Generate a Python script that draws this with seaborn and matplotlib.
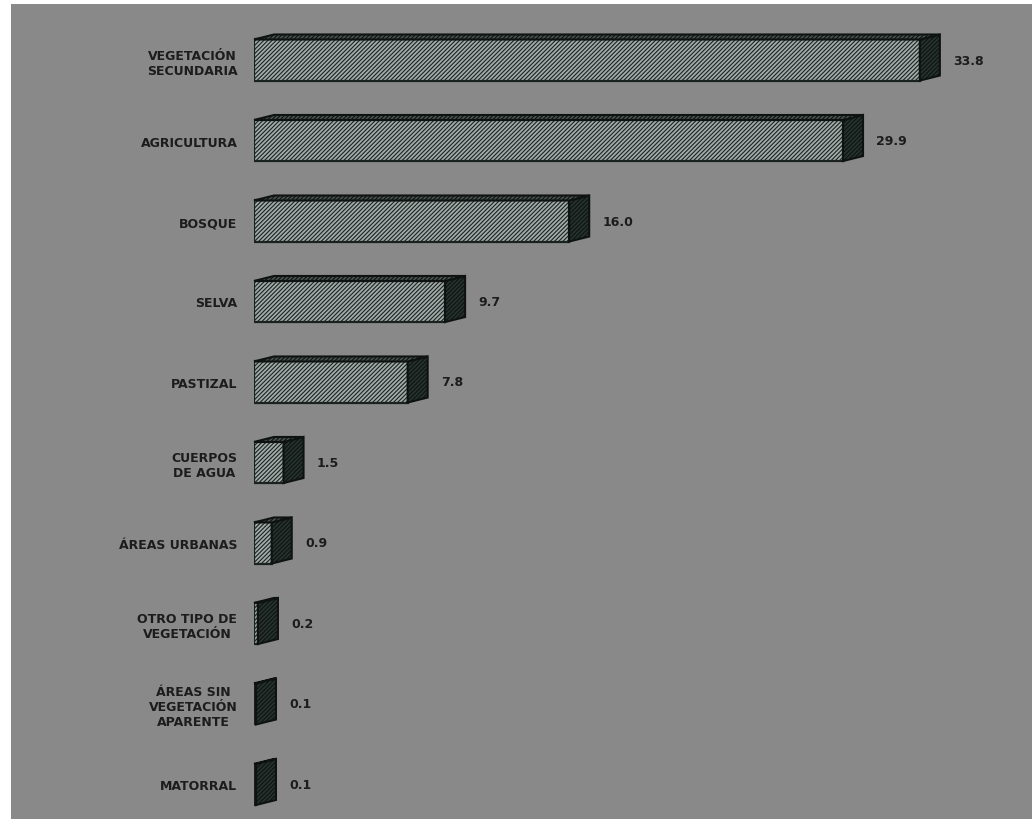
import matplotlib
matplotlib.use("Agg")
import matplotlib.pyplot as plt
from matplotlib.patches import Polygon
import seaborn as sns
import pandas as pd

categories = ["VEGETACIÓN\nSECUNDARIA", "AGRICULTURA", "BOSQUE", "SELVA", "PASTIZAL",
              "CUERPOS\nDE AGUA", "ÁREAS URBANAS", "OTRO TIPO DE\nVEGETACIÓN",
              "ÁREAS SIN\nVEGETACIÓN\nAPARENTE", "MATORRAL"]
values = [33.8, 29.9, 16.0, 9.7, 7.8, 1.5, 0.9, 0.2, 0.1, 0.1]
value_labels = ["33.8", "29.9", "16.0", "9.7", "7.8", "1.5", "0.9", "0.2", "0.1", "0.1"]

sns.set_style("white")
plt.rcParams["font.family"] = ["DejaVu Sans"]
plt.rcParams["hatch.linewidth"] = 0.8

W, H, DPI = 1032, 820, 100
fig = plt.figure(figsize=(W / DPI, H / DPI), dpi=DPI)
fig.patch.set_facecolor("white")

bg = fig.add_axes([11 / W, 0, 1 - 11 / W, (H - 5) / H], zorder=-5)
bg.set_facecolor("#898989")
bg.set_xticks([]); bg.set_yticks([])
for s in bg.spines.values():
    s.set_visible(False)

ax = fig.add_axes([254 / W, 0, 766 / W, 1], zorder=1)
ax.set_facecolor("none")

front_color = "#a3abaa"
df = pd.DataFrame({"cat": categories, "val": values})
sns.barplot(data=df, x="val", y="cat", orient="h", color=front_color, width=0.51,
            edgecolor="#101412", linewidth=1.6, saturation=1, ax=ax)
for p in ax.patches:
    p.set_hatch("////////")
    p.set_facecolor(front_color)
    p.set_edgecolor("#1a2220")

ax.set_xlim(0, 766 / 19.7)
ax.set_ylim(9.429, -0.758)
ax.set_yticks(range(len(categories)))
ax.set_yticklabels(categories, fontsize=9, fontweight="bold", color="#1c1c1c",
                   multialignment="center")
ax.tick_params(axis="y", length=0, pad=12)
ax.set_xticks([])
ax.set_xlabel("")
ax.set_ylabel("")
for s in ax.spines.values():
    s.set_visible(False)

fig.canvas.draw()
dx, dy = 20, 5
bars = list(ax.patches)
inv = ax.transData.inverted()
for p in bars:
    x0, y0 = p.get_x(), p.get_y()
    w, h = p.get_width(), p.get_height()
    (X0, Ya), (X1, Yb) = ax.transData.transform([(x0, y0), (x0 + w, y0 + h)])
    yb, yt = min(Ya, Yb), max(Ya, Yb)
    side = inv.transform([(X1, yb), (X1, yt), (X1 + dx, yt + dy), (X1 + dx, yb + dy)])
    top = inv.transform([(X0, yt), (X1, yt), (X1 + dx, yt + dy), (X0 + dx, yt + dy)])
    ax.add_patch(Polygon(side, closed=True, facecolor="#26322e", edgecolor="#0e1311",
                         hatch="////////", linewidth=1.5, zorder=3, clip_on=False))
    ax.add_patch(Polygon(top, closed=True, facecolor="#4a5250", edgecolor="#0e1311",
                         hatch="////////", linewidth=1.5, zorder=3, clip_on=False))

ax.bar_label(ax.containers[0], labels=value_labels, padding=24, fontsize=9,
             color="#1c1c1c", fontweight="bold")

fig.savefig("out.png", dpi=DPI)
